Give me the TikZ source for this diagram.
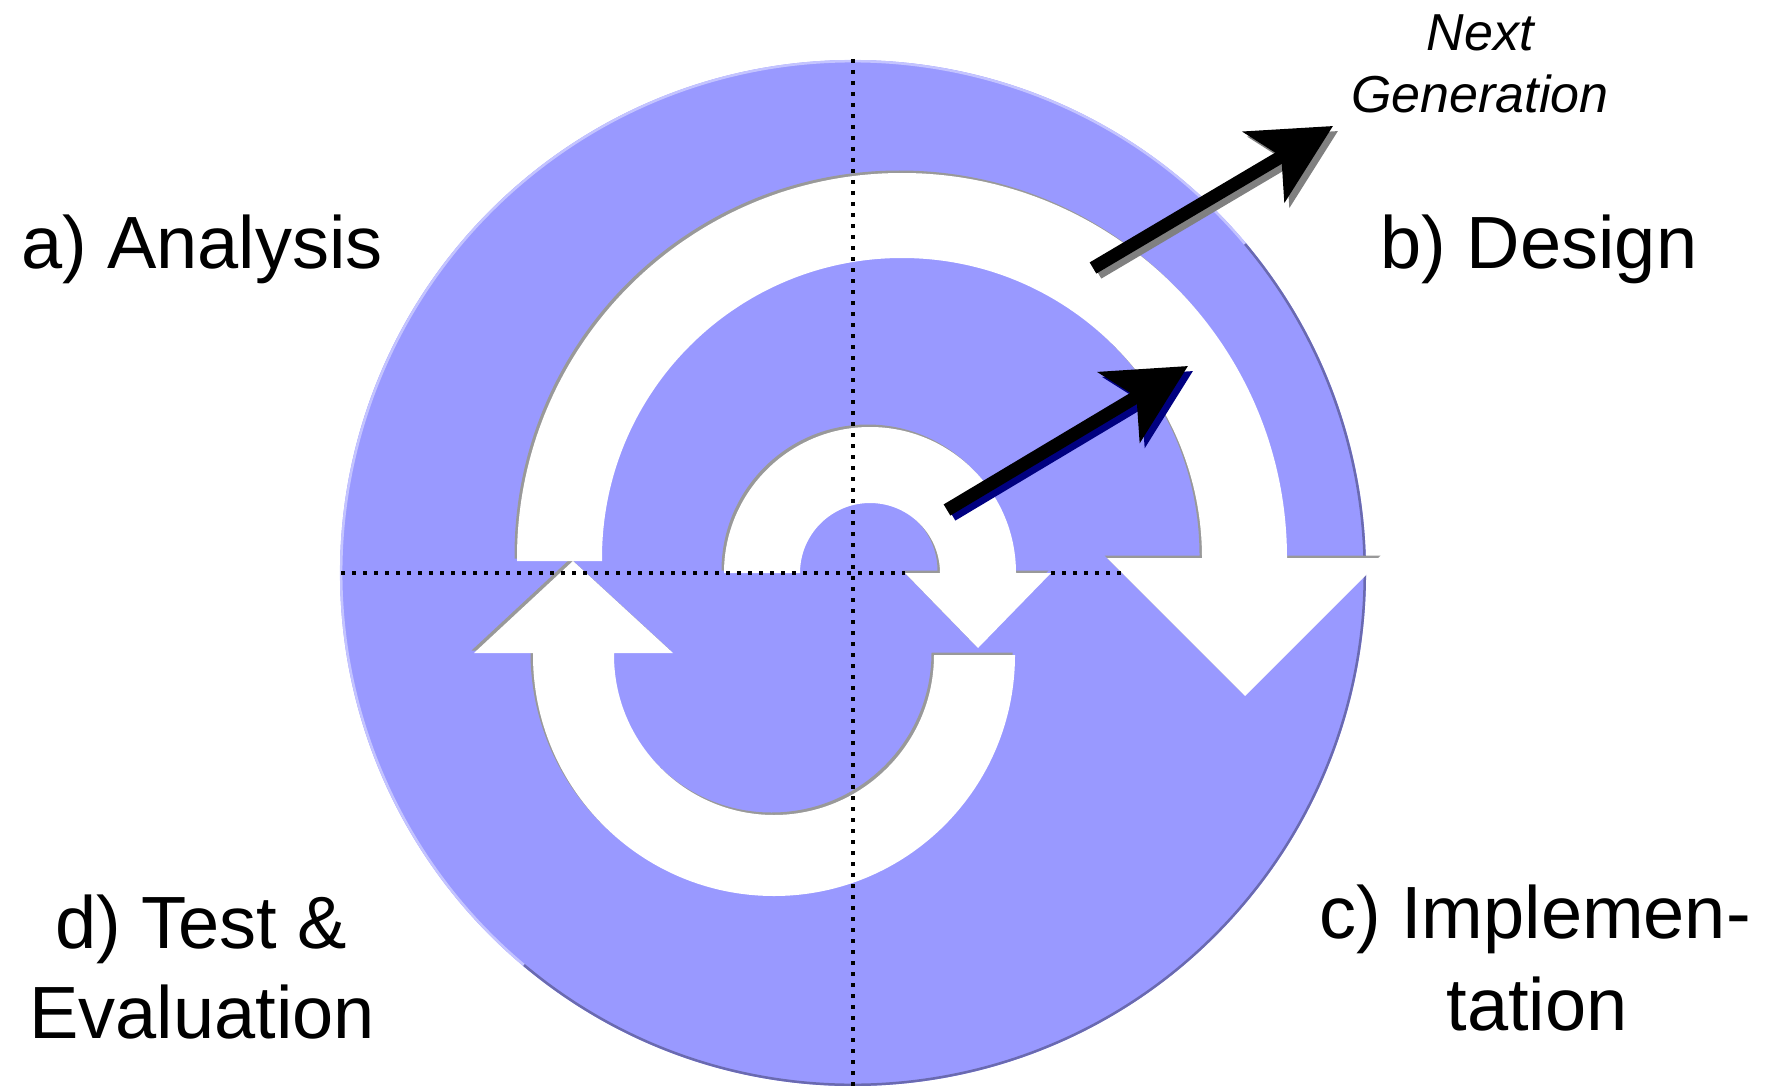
\documentclass[tikz,border=0pt]{standalone}
\usepackage{fontspec}
\setmainfont{Liberation Sans}
\usetikzlibrary{arrows.meta}
\definecolor{discblue}{HTML}{9999FF}
\definecolor{edgelight}{HTML}{C4C4FF}
\definecolor{edgedark}{HTML}{6A6AB0}
\definecolor{shadowgray}{HTML}{999999}
\definecolor{arrowgray}{HTML}{808080}
\definecolor{arrownavy}{HTML}{000080}
\newcommand\pathBigArc{(517,-561) -- (517,-558) arc[start angle=180,end angle=0,radius=385pt] -- (1383,-558) -- (1245,-696) -- (1107,-558) -- (1202,-558) arc[start angle=0,end angle=180,radius=300pt] -- (602,-561) -- cycle}
\newcommand\pathLowArc{(934,-655) -- (1015,-655) arc[start angle=0,end angle=-180,radius=241pt] -- (533,-653) -- (474,-653) -- (573,-561) -- (673,-653) -- (614,-653) -- (614,-655) arc[start angle=180,end angle=360,radius=160pt] -- cycle}
\newcommand\pathInnArc{(724,-573) arc[start angle=180,end angle=0,radius=146pt] -- (1051,-573) -- (978,-648) -- (905,-573) -- (940,-573) arc[start angle=0,end angle=180,radius=70pt] -- cycle}
\begin{document}
\begin{tikzpicture}[x=1pt,y=1pt,
  bandfill/.style={fill=white},
  bandshadow/.style={fill=shadowgray, shift={(-2.5,2.5)}},
  axisdots/.style={line width=4.2pt, dash pattern=on 4.2pt off 6.8pt, black},
  fatarrow/.style={-{Stealth[length=80pt,width=81pt,inset=20pt]}, line width=13pt},
  txtbig/.style={font=\fontsize{74}{91}\selectfont, anchor=base, inner sep=0pt},
  txtsmall/.style={font=\itshape\fontsize{52}{62}\selectfont, anchor=base, inner sep=0pt}]
\useasboundingbox (0,0) rectangle (1769,-1086);
\clip (0,0) rectangle (1769,-1086);
% disc
\coordinate (C) at (853,-573);
\fill[discblue] (C) circle[radius=513pt];
\draw[edgelight, line width=2.5pt] (C) ++(40:511.8pt) arc[start angle=40,end angle=230,radius=511.8pt];
\draw[edgedark, line width=2.5pt] (C) ++(230:511.8pt) arc[start angle=230,end angle=400,radius=511.8pt];
% white spiral arrows
\path[bandshadow] \pathLowArc;
\path[bandfill] \pathLowArc;
\path[bandshadow] \pathBigArc;
\path[bandfill] \pathBigArc;
\path[bandshadow] \pathInnArc;
\path[bandfill] \pathInnArc;
% dotted axes
\coordinate (vtop) at (853,-59);
\coordinate (vbot) at (853,-1086);
\coordinate (hleft) at (341,-573);
\coordinate (hmid1) at (905,-573);
\coordinate (hmid2) at (1051,-573);
\coordinate (hright) at (1124,-573);
\draw[axisdots] (vtop) -- (vbot);
\draw[axisdots] (hleft) -- (hmid1);
\draw[axisdots] (hmid2) -- (hright);
% black arrows with shadows
\coordinate (bt) at (1093,-268);
\coordinate (bh) at (1333,-126);
\coordinate (st) at (947,-510);
\coordinate (sh) at (1188,-366);
\draw[fatarrow, arrowgray] ([shift={(5,-5)}]bt) -- ([shift={(5,-5)}]bh);
\draw[fatarrow, black] (bt) -- (bh);
\draw[fatarrow, arrownavy] ([shift={(5,-5)}]st) -- ([shift={(5,-5)}]sh);
\draw[fatarrow, black] (st) -- (sh);
% labels
\node[txtbig] (ta) at (202,-268) {a) Analysis};
\node[txtbig] (tb) at (1539,-268) {b) Design};
\node[txtbig] (tc1) at (1535,-938) {c) Implemen-};
\node[txtbig] (tc2) at (1537,-1030) {tation};
\node[txtbig] (td1) at (201,-948) {d) Test \&};
\node[txtbig] (td2) at (202,-1038) {Evaluation};
\node[txtsmall] (tn1) at (1480,-51) {Next};
\node[txtsmall] (tn2) at (1480,-113) {Generation};
\end{tikzpicture}
\end{document}
